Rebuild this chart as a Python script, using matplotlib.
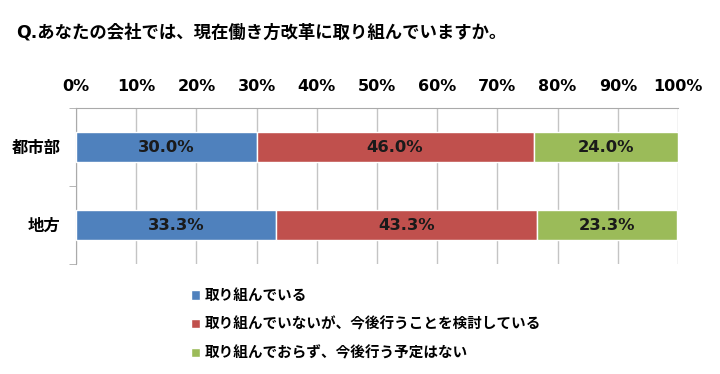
import matplotlib.pyplot as plt
import numpy as np

plt.rcParams['font.family'] = ['DejaVu Sans', 'Noto Sans CJK JP']

title = 'Q.あなたの会社では、現在働き方改革に取り組んでいますか。'
regions = ['都市部', '地方']
series_names = ['取り組んでいる',
                '取り組んでいないが、今後行うことを検討している',
                '取り組んでおらず、今後行う予定はない']
doing = [30.0, 33.3]
planning = [46.0, 43.3]
not_planning = [24.0, 23.3]
colors = ['#4F81BD', '#C0504D', '#9BBB59']

fig = plt.figure(figsize=(7.2, 3.74), dpi=100)
ax = fig.add_axes([76/720, 1 - 264/374, (678-76)/720, (264-108)/374])

y = np.arange(len(regions))
left = np.zeros(len(regions))
bars = []
for vals, c, name in zip([doing, planning, not_planning], colors, series_names):
    b = ax.barh(y, vals, left=left, height=0.39, color=c, edgecolor='white',
                linewidth=1, label=name, zorder=3)
    for yi, v, l in zip(y, vals, left):
        ax.text(l + v / 2, yi, f'{v:.1f}%', ha='center', va='center',
                fontsize=11.8, fontweight='bold', color='#1a1a1a', zorder=4)
    left = left + np.array(vals)
    bars.append(b)

ax.set_xlim(0, 100)
ax.set_ylim(1.5, -0.5)
ax.set_xticks(np.arange(0, 101, 10))
ax.set_xticklabels([f'{t}%' for t in range(0, 101, 10)], fontsize=11.5,
                   fontweight='bold')
ax.xaxis.tick_top()
ax.tick_params(axis='x', length=0, pad=10)
ax.set_yticks(y)
ax.set_yticklabels(regions, fontsize=11.8, fontweight='bold')
ax.tick_params(axis='y', length=0, pad=11)
ax.set_yticks([-0.5, 0.5, 1.5], minor=True)
ax.tick_params(axis='y', which='minor', length=5, color='#aaaaaa')
ax.grid(axis='x', color='#c4c4c4', linewidth=1, zorder=0)
for s in ['right', 'bottom']:
    ax.spines[s].set_visible(False)
ax.spines['top'].set_color('#aaaaaa')
ax.spines['left'].set_color('#aaaaaa')

fig.text(16/720, 1 - 32/374, title, fontsize=12.5, fontweight='bold',
         va='center', ha='left')

fig.legend(handles=bars, loc='upper left', bbox_to_anchor=(178/720, 1 - 275/374),
           frameon=False, prop={'size': 10.5, 'weight': 'bold'},
           handlelength=0.6, handleheight=0.6, handletextpad=0.35,
           labelspacing=0.95)

fig.savefig('out.png', dpi=100)
